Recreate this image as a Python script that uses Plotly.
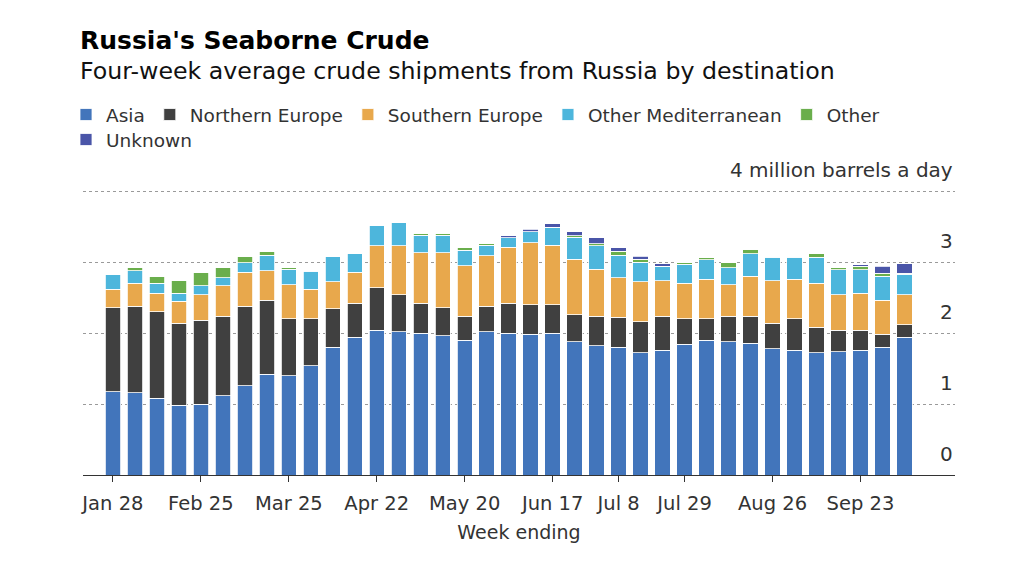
import plotly.graph_objects as go

weeks = ["Jan 28", "Feb 4", "Feb 11", "Feb 18", "Feb 25", "Mar 4", "Mar 11", "Mar 18", "Mar 25",
         "Apr 1", "Apr 8", "Apr 15", "Apr 22", "Apr 29", "May 6", "May 13", "May 20", "May 27",
         "Jun 3", "Jun 10", "Jun 17", "Jun 24", "Jul 1", "Jul 8", "Jul 15", "Jul 22", "Jul 29",
         "Aug 5", "Aug 12", "Aug 19", "Aug 26", "Sep 2", "Sep 9", "Sep 16", "Sep 23", "Sep 30", "Oct 7"]

asia = [1.17, 1.16, 1.08, 0.98, 1.00, 1.12, 1.26, 1.42, 1.40, 1.54, 1.80, 1.94, 2.04, 2.02, 2.00,
        1.96, 1.90, 2.02, 2.00, 1.98, 2.00, 1.88, 1.82, 1.80, 1.72, 1.76, 1.84, 1.90, 1.88, 1.86,
        1.78, 1.76, 1.72, 1.74, 1.76, 1.80, 1.94]
northern_europe = [1.19, 1.22, 1.22, 1.16, 1.18, 1.12, 1.12, 1.04, 0.80, 0.66, 0.54, 0.48, 0.60,
                   0.52, 0.42, 0.40, 0.34, 0.36, 0.42, 0.42, 0.40, 0.38, 0.42, 0.42, 0.44, 0.48,
                   0.36, 0.30, 0.36, 0.38, 0.36, 0.44, 0.36, 0.30, 0.28, 0.18, 0.18]
southern_europe = [0.26, 0.32, 0.26, 0.31, 0.36, 0.43, 0.48, 0.42, 0.48, 0.42, 0.38, 0.44, 0.59,
                   0.69, 0.71, 0.77, 0.71, 0.71, 0.79, 0.87, 0.84, 0.78, 0.66, 0.56, 0.56, 0.50,
                   0.50, 0.56, 0.44, 0.56, 0.60, 0.56, 0.62, 0.50, 0.52, 0.48, 0.42]
other_med = [0.20, 0.18, 0.14, 0.11, 0.13, 0.11, 0.13, 0.22, 0.22, 0.25, 0.36, 0.26, 0.28, 0.33,
             0.25, 0.25, 0.22, 0.15, 0.13, 0.16, 0.25, 0.31, 0.33, 0.32, 0.28, 0.20, 0.27, 0.27,
             0.24, 0.32, 0.33, 0.31, 0.37, 0.35, 0.33, 0.34, 0.29]
other = [0.00, 0.04, 0.10, 0.18, 0.19, 0.14, 0.09, 0.05, 0.02, 0.01, 0.00, 0.00, 0.00, 0.00,
         0.03, 0.03, 0.03, 0.02, 0.00, 0.00, 0.00, 0.02, 0.03, 0.05, 0.04, 0.00, 0.02, 0.03,
         0.07, 0.06, 0.01, 0.01, 0.05, 0.03, 0.05, 0.04, 0.015]
unknown = [0, 0, 0, 0, 0, 0, 0, 0, 0, 0, 0, 0, 0, 0, 0, 0, 0, 0, 0.03, 0.03, 0.05, 0.06, 0.08,
           0.05, 0.04, 0.04, 0, 0, 0, 0, 0, 0, 0, 0, 0.02, 0.10, 0.135]

tick_labels = ["Jan 28", "Feb 25", "Mar 25", "Apr 22", "May 20", "Jun 17", "Jul 8", "Jul 29",
               "Aug 26", "Sep 23"]
y_labels = ["0", "1", "2", "3", "4 million barrels a day"]
y_label_vals = [0, 1, 2, 3, 4]

series = [
    ("Asia", asia, "#4275bb", "legend"),
    ("Northern Europe", northern_europe, "#404040", "legend"),
    ("Southern Europe", southern_europe, "#e8a84c", "legend"),
    ("Other Mediterranean", other_med, "#4db6dc", "legend"),
    ("Other", other, "#6aae4c", "legend"),
    ("Unknown", unknown, "#4a55a8", "legend2"),
]

FONT = "DejaVu Sans"
TXT = "#333333"
# page body has an 8px margin; figure is sized/offset to compensate
W, H, OFF = 1016, 567, 8
YMAX = 4.03
PX_PER_UNIT = 71
plot_h = YMAX * PX_PER_UNIT
base_y = 475 - OFF

fig = go.Figure()
for name, vals, col, lg in series:
    fig.add_trace(go.Bar(x=weeks, y=vals, name=name, legend=lg,
                         marker=dict(color=col, line=dict(color="white", width=0.8))))

legend_common = dict(orientation="h", xref="container", yref="container", xanchor="left",
                     yanchor="middle", font=dict(family=FONT, size=18.5, color=TXT),
                     traceorder="normal",
                     itemclick=False, itemdoubleclick=False, bgcolor="rgba(0,0,0,0)")

fig.update_layout(
    barmode="stack",
    bargap=0.3,
    width=W, height=H,
    margin=dict(l=83 - OFF, r=W - (955 - OFF), t=base_y - plot_h, b=H - base_y),
    paper_bgcolor="white", plot_bgcolor="white",
    font=dict(family=FONT, color=TXT, size=18),
    showlegend=True,
    legend=dict(x=(66 - OFF) / W, y=1 - (115 - OFF) / H, **legend_common),
    legend2=dict(x=(66 - OFF) / W, y=1 - (140 - OFF) / H, **legend_common),
    xaxis=dict(type="category", range=[-1.36, 38.3], tickmode="array", tickvals=tick_labels,
               ticktext=tick_labels, ticks="outside", ticklen=6, tickcolor=TXT,
               ticklabelstandoff=5,
               showline=True, linecolor=TXT, linewidth=1, showgrid=False,
               tickfont=dict(family=FONT, size=19.5, color=TXT),
               title=dict(text="Week ending", font=dict(family=FONT, size=19, color=TXT), standoff=11)),
    yaxis=dict(range=[0, YMAX], tickvals=[0, 1, 2, 3, 4], showticklabels=False, showgrid=True,
               gridcolor="#9a9a9a", griddash="dot", gridwidth=1, zeroline=False, showline=False),
)

for v, t in zip(y_label_vals, y_labels):
    fig.add_annotation(x=1, xref="paper", y=v, yref="y", text=t, showarrow=False,
                       xanchor="right", yanchor="middle", yshift=21,
                       font=dict(family=FONT, size=20, color=TXT))

fig.add_annotation(x=-0.006, xref="paper", y=(base_y - (40 - OFF)) / plot_h, yref="paper",
                   text="<b>Russia's Seaborne Crude</b>",
                   showarrow=False, xanchor="left", yanchor="middle",
                   font=dict(family=FONT, size=25, color="#000000"))
fig.add_annotation(x=-0.006, xref="paper", y=(base_y - (71 - OFF)) / plot_h, yref="paper",
                   text="Four-week average crude shipments from Russia by destination",
                   showarrow=False, xanchor="left", yanchor="middle",
                   font=dict(family=FONT, size=23.7, color="#111111"))

fig.write_html("out.html")
